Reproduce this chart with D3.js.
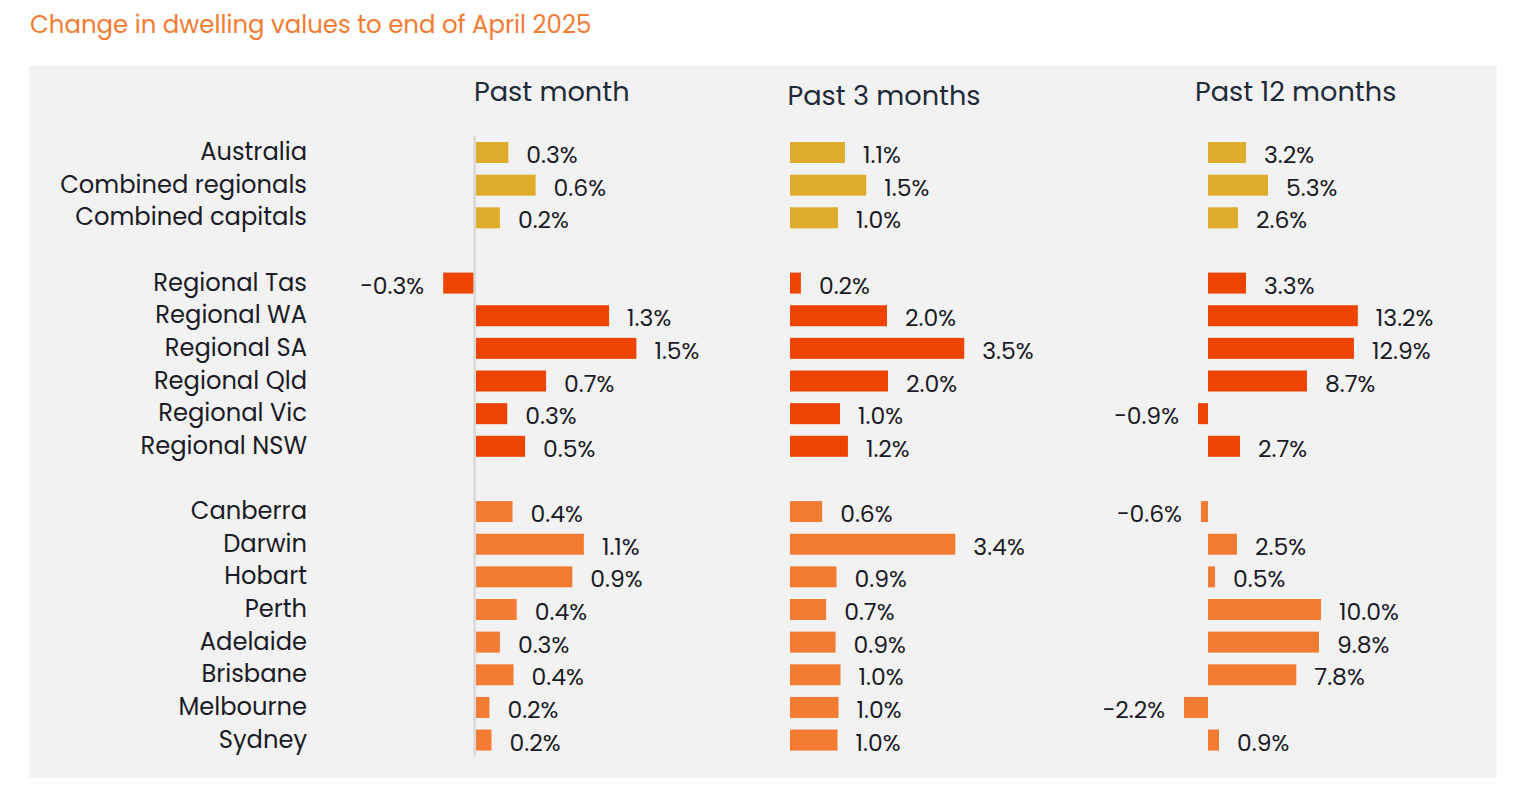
<!DOCTYPE html>
<html>
<head>
<meta charset="utf-8">
<script src="https://cdn.jsdelivr.net/npm/d3@7"></script>
<style>
  html, body { margin: 0; padding: 0; background: #fff; }
  svg { display: block; font-family: Poppins, "Open Sans", sans-serif; }
</style>
</head>
<body>
<svg id="chart" width="1516" height="790"></svg>
<script>
// Rows, top to bottom. Groups get a blank row between them.
const categories = [
  'Australia', 'Combined regionals', 'Combined capitals',
  'Regional Tas', 'Regional WA', 'Regional SA', 'Regional Qld', 'Regional Vic', 'Regional NSW',
  'Canberra', 'Darwin', 'Hobart', 'Perth', 'Adelaide', 'Brisbane', 'Melbourne', 'Sydney'
];
const groups = [
  'agg', 'agg', 'agg',
  'reg', 'reg', 'reg', 'reg', 'reg', 'reg',
  'cap', 'cap', 'cap', 'cap', 'cap', 'cap', 'cap', 'cap'
];

// bar lengths (% change)
const pastMonth = [0.32, 0.58, 0.24, -0.30, 1.28, 1.54, 0.68, 0.31, 0.48,
  0.36, 1.04, 0.93, 0.40, 0.24, 0.37, 0.14, 0.16];
const past3Months = [1.11, 1.54, 0.97, 0.22, 1.96, 3.52, 1.98, 1.01, 1.17,
  0.65, 3.34, 0.94, 0.73, 0.92, 1.02, 0.98, 0.96];
const past12Months = [3.35, 5.29, 2.64, 3.35, 13.2, 12.86, 8.72, -0.88, 2.82,
  -0.62, 2.55, 0.62, 9.96, 9.78, 7.78, -2.11, 0.97];

// printed labels
const pastMonthLabels = ['0.3%', '0.6%', '0.2%', '−0.3%', '1.3%', '1.5%', '0.7%', '0.3%', '0.5%',
  '0.4%', '1.1%', '0.9%', '0.4%', '0.3%', '0.4%', '0.2%', '0.2%'];
const past3MonthsLabels = ['1.1%', '1.5%', '1.0%', '0.2%', '2.0%', '3.5%', '2.0%', '1.0%', '1.2%',
  '0.6%', '3.4%', '0.9%', '0.7%', '0.9%', '1.0%', '1.0%', '1.0%'];
const past12MonthsLabels = ['3.2%', '5.3%', '2.6%', '3.3%', '13.2%', '12.9%', '8.7%', '−0.9%', '2.7%',
  '−0.6%', '2.5%', '0.5%', '10.0%', '9.8%', '7.8%', '−2.2%', '0.9%'];

const groupColor = { agg: '#E0AC2B', reg: '#EF4400', cap: '#F47B32' };

const svg = d3.select('#chart');

svg.append('text')
  .attr('x', 30).attr('y', 33)
  .attr('font-size', 24.4)
  .attr('fill', '#F47B32')
  .text('Change in dwelling values to end of April 2025');

svg.append('rect')
  .attr('x', 29).attr('y', 66)
  .attr('width', 1468).attr('height', 712)
  .attr('fill', '#F2F2F2');

// slot index per row: insert an empty slot whenever the group changes
const slots = [];
let s = 0;
groups.forEach((g, i) => {
  if (i > 0 && g !== groups[i - 1]) s += 1;
  slots.push(s);
  s += 1;
});

const y = d3.scaleBand()
  .domain(d3.range(s))
  .range([136.2, 756.4])
  .paddingInner(0.357)
  .paddingOuter(0.1785);

svg.append('g')
  .selectAll('text')
  .data(categories)
  .join('text')
  .attr('x', 307)
  .attr('y', (d, i) => y(slots[i]) + y.bandwidth() / 2 + 7.5)
  .attr('text-anchor', 'end')
  .attr('font-size', 24.2)
  .attr('fill', '#1b1b26')
  .text((d) => d);

const panels = [
  { title: 'Past month', tx: 474, ty: 101, zero: 474.7, perPct: 105, values: pastMonth, labels: pastMonthLabels, axis: true },
  { title: 'Past 3 months', tx: 787.5, ty: 105, zero: 790, perPct: 49.5, values: past3Months, labels: past3MonthsLabels, axis: false },
  { title: 'Past 12 months', tx: 1195, ty: 101, zero: 1208, perPct: 11.35, values: past12Months, labels: past12MonthsLabels, axis: false }
];

panels.forEach((p) => {
  const x = d3.scaleLinear().domain([0, 1]).range([p.zero, p.zero + p.perPct]);
  const g = svg.append('g');

  g.append('text')
    .attr('x', p.tx).attr('y', p.ty)
    .attr('font-size', 27.2)
    .attr('fill', '#1E2A38')
    .text(p.title);

  g.selectAll('rect')
    .data(p.values)
    .join('rect')
    .attr('x', (d) => Math.min(x(0), x(d)))
    .attr('y', (d, i) => y(slots[i]))
    .attr('width', (d) => Math.abs(x(d) - x(0)))
    .attr('height', y.bandwidth())
    .attr('fill', (d, i) => groupColor[groups[i]]);

  g.selectAll('text.val')
    .data(p.values)
    .join('text')
    .attr('class', 'val')
    .attr('x', (d) => (d < 0 ? x(d) - 19 : x(d) + 18))
    .attr('y', (d, i) => y(slots[i]) + y.bandwidth() / 2 + 10.5)
    .attr('text-anchor', (d) => (d < 0 ? 'end' : 'start'))
    .attr('font-size', 23.5)
    .attr('fill', '#1b1b26')
    .text((d, i) => p.labels[i]);

  if (p.axis) {
    g.append('line')
      .attr('x1', x(0)).attr('x2', x(0))
      .attr('y1', y.range()[0]).attr('y2', y.range()[1])
      .attr('stroke', '#D9D9D9')
      .attr('stroke-width', 2.7);
  }
});
</script>
</body>
</html>
